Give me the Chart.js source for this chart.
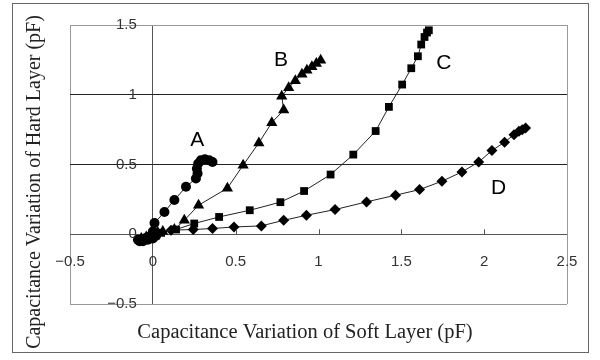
<!DOCTYPE html>
<html>
<head>
<meta charset="utf-8">
<script src="https://cdn.jsdelivr.net/npm/chart.js@4/dist/chart.umd.min.js"></script>
<style>
  body { margin: 0; background: #fff; }
  #frame { position: absolute; left: 12px; top: 3px; width: 575px; height: 348px; border: 1px solid #666; }
  #wrap { position: absolute; left: 0; top: 0; width: 600px; height: 360px; }
</style>
</head>
<body>
<div id="frame"></div>
<div id="wrap"><canvas id="ctx" width="600" height="360"></canvas></div>
<script>
// data  [x, y] in pF
const seriesA = [[-0.09,-0.04],[-0.08,-0.05],[-0.06,-0.05],[-0.05,-0.03],[-0.03,-0.04],[-0.02,-0.02],[0,-0.03],[0.02,-0.01],[0,0.02],
  [0.01,0.08],[0.07,0.16],[0.13,0.245],[0.2,0.34],[0.26,0.4],[0.27,0.435],[0.266,0.47],[0.274,0.507],[0.29,0.53],[0.314,0.538],[0.34,0.53],[0.36,0.518]]
const seriesB = [[-0.07,-0.03],[-0.04,-0.02],[-0.02,-0.01],[0,0],[0.03,0.01],[0.06,0.02],[0.13,0.034],[0.19,0.10],[0.276,0.208],[0.45,0.33],
  [0.545,0.495],[0.64,0.655],[0.718,0.80],[0.79,0.89],[0.778,0.99],[0.82,1.05],[0.86,1.10],[0.90,1.147],[0.93,1.175],[0.96,1.20],[0.987,1.224],[1.013,1.247]]
const seriesC = [[-0.03,-0.02],[0,0],[0.05,0.01],[0.14,0.034],[0.25,0.077],[0.40,0.124],[0.585,0.172],[0.77,0.23],[0.913,0.31],[1.073,0.428],
  [1.21,0.571],[1.345,0.74],[1.425,0.913],[1.505,1.073],[1.56,1.19],[1.60,1.276],[1.62,1.36],[1.64,1.414],[1.655,1.446],[1.666,1.462]]
const seriesD = [[-0.02,-0.01],[0.03,0.01],[0.11,0.029],[0.244,0.034],[0.36,0.041],[0.49,0.052],[0.655,0.06],[0.79,0.10],[0.927,0.136],[1.10,0.177],
  [1.29,0.232],[1.465,0.28],[1.61,0.32],[1.745,0.38],[1.866,0.447],[1.967,0.518],[2.047,0.60],[2.123,0.66],[2.18,0.714],[2.21,0.738],[2.23,0.75],[2.25,0.762]]

const xTicks = [-0.5, 0, 0.5, 1, 1.5, 2, 2.5]
const yTicks = [-0.5, 0, 0.5, 1, 1.5]
const curveNames = ['A', 'B', 'C', 'D']
const namePos = [[0.268,0.674],[0.774,1.247],[1.756,1.226],[2.087,0.33]]

const xTitle = 'Capacitance Variation of Soft Layer (pF)'
const yTitle = 'Capacitance Variation of Hard Layer (pF)'

function toPts(arr){
    return arr.map(p => ({x: p[0], y: p[1]}))
}

function serie(arr, style, r){
    return {
        data: toPts(arr),
        showLine: true,
        borderColor: '#222',
        borderWidth: 1,
        backgroundColor: '#000',
        pointStyle: style,
        pointRadius: r,
        pointBorderWidth: 0,
        pointBackgroundColor: '#000',
        clip: false
    }
}

// tick labels, tick marks, titles, curve names
const textos = {
    id: 'textos',
    afterDraw(chart){
        const c = chart.ctx
        const sx = chart.scales.x
        const sy = chart.scales.y
        const x0 = sx.getPixelForValue(0)
        const y0 = sy.getPixelForValue(0)
        c.save()
        c.strokeStyle = '#555'
        c.lineWidth = 1
        xTicks.forEach(v => {
            if (v <= 0 || v >= 2.5) return
            const px = Math.round(sx.getPixelForValue(v)) + 0.5
            c.beginPath(); c.moveTo(px, y0); c.lineTo(px, y0 - 5); c.stroke()
        })
        c.fillStyle = '#333'
        c.font = '15px "Liberation Sans", Arial, sans-serif'
        c.textAlign = 'center'
        c.textBaseline = 'middle'
        xTicks.forEach(v => {
            const t = v < 0 ? '\u2212' + Math.abs(v) : String(v)
            c.fillText(t, sx.getPixelForValue(v), y0 + 28)
        })
        c.textAlign = 'right'
        yTicks.forEach(v => {
            const t = v < 0 ? '\u2212' + Math.abs(v) : String(v)
            c.fillText(t, x0 - 16, sy.getPixelForValue(v))
        })
        c.fillStyle = '#000'
        c.font = '21px "Liberation Sans", Arial, sans-serif'
        c.textAlign = 'center'
        curveNames.forEach((n, i) => {
            c.fillText(n, sx.getPixelForValue(namePos[i][0]), sy.getPixelForValue(namePos[i][1]))
        })
        c.fillStyle = '#222'
        c.font = '20.5px "Liberation Serif", "Times New Roman", serif'
        c.fillText(xTitle, 305, 333)
        c.font = '20px "Liberation Serif", "Times New Roman", serif'
        c.translate(35, 182)
        c.rotate(-Math.PI / 2)
        c.fillText(yTitle, 0, 0)
        c.restore()
    }
}

new Chart(document.getElementById('ctx'), {
    type: 'scatter',
    data: {
        datasets: [
            serie(seriesA, 'circle', 5),
            serie(seriesB, 'triangle', 6.5),
            serie(seriesC, 'rect', 5.5),
            serie(seriesD, 'rectRot', 5.5)
        ]
    },
    options: {
        responsive: false,
        animation: false,
        events: [],
        layout: { padding: { left: 70, top: 25, right: 33, bottom: 56 } },
        plugins: { legend: { display: false }, tooltip: { enabled: false } },
        scales: {
            x: {
                type: 'linear', min: -0.5, max: 2.5,
                ticks: { display: false, stepSize: 0.5 },
                border: { display: false },
                grid: {
                    drawTicks: false,
                    color: ctx => {
                        const v = ctx.tick.value
                        if (v === 0) return '#555'
                        if (v === -0.5 || v === 2.5) return '#999'
                        return 'rgba(0,0,0,0)'
                    }
                }
            },
            y: {
                type: 'linear', min: -0.5, max: 1.5,
                ticks: { display: false, stepSize: 0.5 },
                border: { display: false },
                grid: {
                    drawTicks: false,
                    color: ctx => {
                        const v = ctx.tick.value
                        if (v === 0) return '#555'
                        if (v === -0.5 || v === 1.5) return '#999'
                        return '#222'
                    }
                }
            }
        }
    },
    plugins: [textos]
});
</script>
</body>
</html>
